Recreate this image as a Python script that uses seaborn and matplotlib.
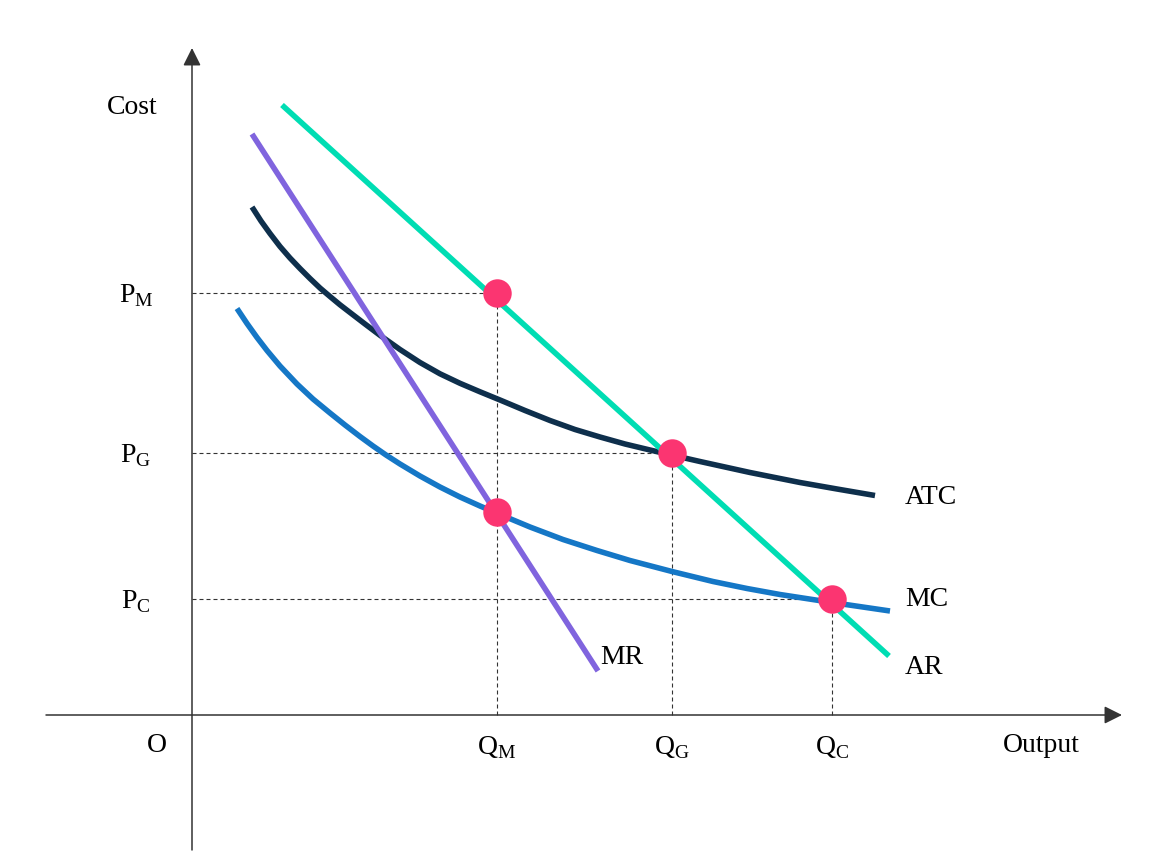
import numpy as np
import pandas as pd
import matplotlib
matplotlib.use("Agg")
import matplotlib.pyplot as plt
import seaborn as sns

# curve readings (origin at O, units ~ pixels)
atc_x = [60, 69, 78, 88, 98, 108, 118, 128, 138, 148, 158, 173, 188, 208, 228, 248, 268,
         288, 308, 333, 358, 383, 408, 433, 458, 483, 508, 533, 558, 583, 608, 645, 683]
atc_y = [508, 494, 481.5, 468.5, 457, 446.5, 436.5, 427, 418.5, 410.2, 402.5, 391, 379.7,
         365.5, 352.5, 341.2, 331.7, 323.2, 315, 304.5, 294.5, 285.5, 278, 271, 265, 259.2,
         253.5, 248, 242.5, 237.5, 232.5, 226, 219.5]
mc_x = [45, 55, 65, 75, 88, 105, 121, 138, 153, 168, 181, 194, 208, 228, 248, 268, 288,
        308, 338, 371, 405, 438, 480, 521, 555, 588, 640, 698]
mc_y = [406.5, 391.5, 377.5, 364.5, 349, 331, 316, 302, 290, 278.5, 269, 260, 251, 239,
        228, 218, 209, 200.5, 188, 175.5, 164.5, 154.5, 143.5, 133.5, 126.5, 120.5, 112.5, 104]
ar_x = [90, 697]
ar_y = [610, 59]
mr_x = [60, 406]
mr_y = [581, 44]

# equilibrium quantities / prices
q_vals = {"M": 305, "G": 480, "C": 640}
p_vals = {"M": 422, "G": 262, "C": 116}
dot_x = [305, 480, 305, 640]
dot_y = [422, 262, 203, 116]

sns.set_theme(style="white")
plt.rcParams["font.family"] = ["Liberation Serif", "DejaVu Serif"]
plt.rcParams["mathtext.fontset"] = "custom"
plt.rcParams["mathtext.rm"] = "Liberation Serif"

fig = plt.figure(figsize=(11.74, 8.51), dpi=100)
ax = fig.add_axes([0, 0, 1, 1])
ax.set_xlim(-192, 982)
ax.set_ylim(-136, 715)
ax.axis("off")

# axes with arrows
axis_kw = dict(arrowstyle="-|>", color="#333333", lw=1.1, mutation_scale=27, shrinkA=0, shrinkB=0)
ax.annotate("", xy=(930, 0), xytext=(-146, 0), arrowprops=axis_kw)
ax.annotate("", xy=(0, 667), xytext=(0, -135), arrowprops=axis_kw)

# dashed guides
dash = dict(color="#333333", lw=0.8, linestyle=(0, (3.6, 2.7)), zorder=1)
for k in ["M", "G", "C"]:
    ax.plot([0, q_vals[k]], [p_vals[k], p_vals[k]], **dash)
    ax.plot([q_vals[k], q_vals[k]], [0, p_vals[k]], **dash)

curves = [
    ("ATC", atc_x, atc_y, "#0e2f4c"),
    ("MC", mc_x, mc_y, "#1577c6"),
    ("AR", ar_x, ar_y, "#00ddb3"),
    ("MR", mr_x, mr_y, "#8064de"),
]
for name, xs, ys, col in curves:
    df = pd.DataFrame({"x": xs, "y": ys})
    sns.lineplot(data=df, x="x", y="y", ax=ax, color=col, lw=4, estimator=None,
                 solid_capstyle="butt", solid_joinstyle="round", zorder=3)

sns.scatterplot(x=dot_x, y=dot_y, ax=ax, color="#fb3571", s=420, linewidth=0, zorder=5)

fs = 20
txt = dict(fontsize=fs, color="black", va="center")
ax.text(-60, 608, "Cost", ha="center", **txt)
for k in ["M", "G", "C"]:
    ax.text(-56, p_vals[k] - 3, "P$_{\\mathrm{%s}}$" % k, ha="center", **txt)
    ax.text(q_vals[k], -33, "Q$_{\\mathrm{%s}}$" % k, ha="center", **txt)
ax.text(-35, -30, "O", ha="center", **txt)
ax.text(849, -31, "Output", ha="center", **txt)
ax.text(713, 218, "ATC", ha="left", **txt)
ax.text(713, 116, "MC", ha="left", **txt)
ax.text(713, 47, "AR", ha="left", **txt)
ax.text(408, 58, "MR", ha="left", **txt)

fig.savefig("out.png", dpi=100, facecolor="white")
